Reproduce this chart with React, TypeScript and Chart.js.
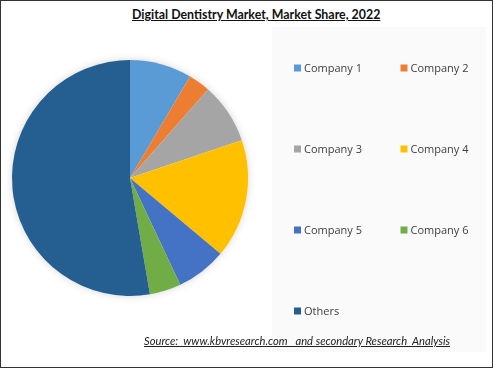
import React, { useEffect, useRef } from "react";
import { Chart, registerables } from "chart.js";
Chart.register(...registerables);

const TITLE = "Digital Dentistry Market, Market Share, 2022";
const SOURCE = "Source:  www.kbvresearch.com   and secondary Research  Analysis";
const categories = ["Company 1", "Company 2", "Company 3", "Company 4", "Company 5", "Company 6", "Others"];
const shares = [8.5, 3.0, 8.3, 16.3, 6.9, 4.3, 52.7];
const colors = ["#5B9BD5", "#ED7D31", "#A5A5A5", "#FFC000", "#4472C4", "#70AD47", "#255E91"];

const pieShadow = {
  id: "pieShadow",
  beforeDatasetsDraw(chart: any) {
    const arc = chart.getDatasetMeta(0).data[0];
    if (!arc) return;
    const ctx = chart.ctx;
    ctx.save();
    ctx.shadowColor = "rgba(0,0,0,0.18)";
    ctx.shadowBlur = 8;
    ctx.fillStyle = "#ffffff";
    ctx.beginPath();
    ctx.arc(arc.x, arc.y, arc.outerRadius - 0.5, 0, Math.PI * 2);
    ctx.fill();
    ctx.restore();
  },
};

const gridLegend = {
  id: "gridLegend",
  afterDraw(chart: any) {
    const ctx = chart.ctx;
    const labels = chart.data.labels as string[];
    const bg = chart.data.datasets[0].backgroundColor as string[];
    ctx.save();
    ctx.font = "11px 'Open Sans'";
    ctx.textBaseline = "middle";
    ctx.textAlign = "left";
    labels.forEach((l, i) => {
      const col = i % 2;
      const row = Math.floor(i / 2);
      const x = 294 + col * 106.5;
      const y = 68 + row * 81;
      ctx.fillStyle = bg[i];
      ctx.fillRect(x, y - 3.5, 7, 7);
      ctx.fillStyle = "#404040";
      ctx.fillText(l, x + 10, y + 0.5);
    });
    ctx.restore();
  },
};

export default function App() {
  const ref = useRef<HTMLCanvasElement | null>(null);
  useEffect(() => {
    if (!ref.current) return;
    const chart = new Chart(ref.current, {
      type: "pie",
      data: {
        labels: categories,
        datasets: [
          {
            data: shares,
            backgroundColor: colors,
            borderWidth: 0,
          },
        ],
      },
      options: {
        animation: false,
        responsive: false,
        maintainAspectRatio: false,
        layout: { padding: { left: 12, top: 60, right: 245, bottom: 72 } },
        plugins: {
          legend: { display: false },
          title: { display: false },
          tooltip: { enabled: false },
        },
      },
      plugins: [pieShadow, gridLegend],
    });
    return () => chart.destroy();
  }, []);

  return (
    <div
      style={{
        position: "absolute",
        left: 0,
        top: 0,
        width: 493,
        height: 368,
        boxSizing: "border-box",
        border: "1px solid #333",
        background: "#fff",
        overflow: "hidden",
      }}
    >
      <div
        style={{
          position: "absolute",
          left: 271,
          top: 26,
          width: 214,
          height: 325,
          background: "#fafafa",
        }}
      />
      <div
        style={{
          position: "absolute",
          left: 131,
          top: 6,
          fontFamily: "Lato, 'Open Sans', sans-serif",
          fontWeight: 700,
          fontSize: 12.4,
          color: "#111",
          textDecoration: "underline",
          whiteSpace: "nowrap",
        }}
      >
        {TITLE}
      </div>
      <canvas
        ref={ref}
        width={493}
        height={368}
        style={{ position: "absolute", left: -1, top: -1, width: 493, height: 368 }}
      />
      <div
        style={{
          position: "absolute",
          left: 143,
          top: 333,
          fontFamily: "Lato, 'Open Sans', sans-serif",
          fontStyle: "italic",
          fontSize: 11.2,
          color: "#222",
          textDecoration: "underline",
          whiteSpace: "pre",
        }}
      >
        {SOURCE}
      </div>
    </div>
  );
}
